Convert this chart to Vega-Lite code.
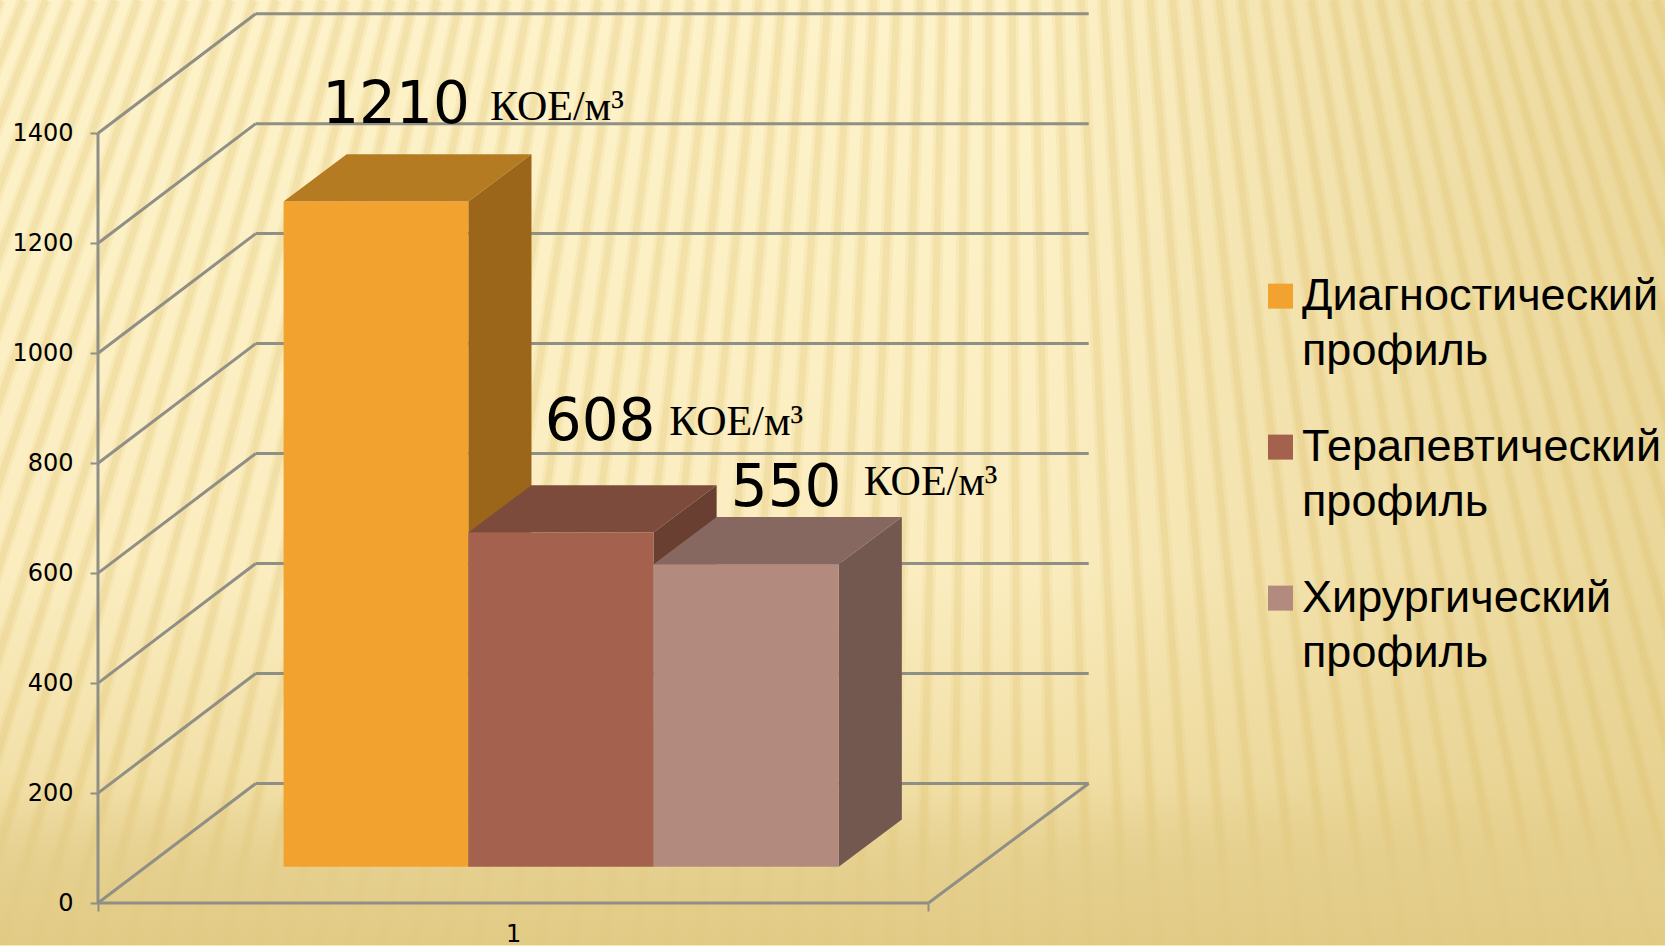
{"$schema":"https://vega.github.io/schema/vega-lite/v6.json","width":1665,"height":946,"padding":0,"autosize":{"type":"fit","contains":"padding"},"background":"#F5E6B4","config":{"view":{"stroke":null},"style":{"guide-label":{"lineHeight":55}}},
"datasets":{
"stripes":[{"x":-1.18,"x2":-5.74,"y":1642.4,"y2":-76.3},{"x":-0.90,"x2":-5.35,"y":1642.4,"y2":-76.3},{"x":-0.63,"x2":-4.97,"y":1642.4,"y2":-76.3},{"x":-0.35,"x2":-4.59,"y":1642.4,"y2":-76.3},{"x":-0.07,"x2":-4.21,"y":1642.4,"y2":-76.3},{"x":0.20,"x2":-3.83,"y":1642.4,"y2":-76.3},{"x":0.48,"x2":-3.45,"y":1642.4,"y2":-76.3},{"x":0.76,"x2":-3.06,"y":1642.4,"y2":-76.3},{"x":1.04,"x2":-2.68,"y":1642.4,"y2":-76.3},{"x":1.31,"x2":-2.30,"y":1642.4,"y2":-76.3},{"x":1.59,"x2":-1.92,"y":1642.4,"y2":-76.3},{"x":1.87,"x2":-1.54,"y":1642.4,"y2":-76.3},{"x":2.14,"x2":-1.16,"y":1642.4,"y2":-76.3},{"x":2.42,"x2":-0.77,"y":1642.4,"y2":-76.3},{"x":2.70,"x2":-0.39,"y":1642.4,"y2":-76.3},{"x":2.97,"x2":-0.01,"y":1642.4,"y2":-76.3},{"x":3.25,"x2":0.37,"y":1642.4,"y2":-76.3},{"x":3.53,"x2":0.75,"y":1642.4,"y2":-76.3},{"x":3.80,"x2":1.14,"y":1642.4,"y2":-76.3},{"x":4.08,"x2":1.52,"y":1642.4,"y2":-76.3},{"x":4.36,"x2":1.90,"y":1642.4,"y2":-76.3},{"x":4.64,"x2":2.28,"y":1642.4,"y2":-76.3},{"x":4.91,"x2":2.66,"y":1642.4,"y2":-76.3},{"x":5.19,"x2":3.04,"y":1642.4,"y2":-76.3},{"x":5.47,"x2":3.43,"y":1642.4,"y2":-76.3},{"x":5.74,"x2":3.81,"y":1642.4,"y2":-76.3},{"x":6.02,"x2":4.19,"y":1642.4,"y2":-76.3},{"x":6.30,"x2":4.57,"y":1642.4,"y2":-76.3},{"x":6.57,"x2":4.95,"y":1642.4,"y2":-76.3},{"x":6.85,"x2":5.33,"y":1642.4,"y2":-76.3},{"x":7.13,"x2":5.72,"y":1642.4,"y2":-76.3},{"x":7.41,"x2":6.10,"y":1642.4,"y2":-76.3},{"x":7.68,"x2":6.48,"y":1642.4,"y2":-76.3},{"x":7.96,"x2":6.86,"y":1642.4,"y2":-76.3},{"x":8.24,"x2":7.24,"y":1642.4,"y2":-76.3},{"x":8.51,"x2":7.62,"y":1642.4,"y2":-76.3},{"x":8.79,"x2":8.01,"y":1642.4,"y2":-76.3},{"x":9.07,"x2":8.39,"y":1642.4,"y2":-76.3},{"x":9.34,"x2":8.77,"y":1642.4,"y2":-76.3},{"x":9.62,"x2":9.15,"y":1642.4,"y2":-76.3},{"x":9.90,"x2":9.53,"y":1642.4,"y2":-76.3},{"x":10.17,"x2":9.91,"y":1642.4,"y2":-76.3},{"x":10.45,"x2":10.30,"y":1642.4,"y2":-76.3},{"x":10.73,"x2":10.68,"y":1642.4,"y2":-76.3},{"x":11.01,"x2":11.08,"y":1642.4,"y2":-76.3},{"x":11.28,"x2":11.50,"y":1642.4,"y2":-76.3},{"x":11.56,"x2":11.93,"y":1642.4,"y2":-76.3},{"x":11.84,"x2":12.35,"y":1642.4,"y2":-76.3},{"x":12.11,"x2":12.77,"y":1642.4,"y2":-76.3},{"x":12.39,"x2":13.19,"y":1642.4,"y2":-76.3},{"x":12.67,"x2":13.62,"y":1642.4,"y2":-76.3},{"x":12.94,"x2":14.04,"y":1642.4,"y2":-76.3},{"x":13.22,"x2":14.46,"y":1642.4,"y2":-76.3},{"x":13.50,"x2":14.88,"y":1642.4,"y2":-76.3},{"x":13.77,"x2":15.31,"y":1642.4,"y2":-76.3},{"x":14.05,"x2":15.73,"y":1642.4,"y2":-76.3},{"x":14.33,"x2":16.15,"y":1642.4,"y2":-76.3},{"x":14.61,"x2":16.57,"y":1642.4,"y2":-76.3},{"x":14.88,"x2":16.99,"y":1642.4,"y2":-76.3},{"x":15.16,"x2":17.42,"y":1642.4,"y2":-76.3},{"x":15.44,"x2":17.84,"y":1642.4,"y2":-76.3},{"x":15.71,"x2":18.26,"y":1642.4,"y2":-76.3},{"x":15.99,"x2":18.69,"y":1642.4,"y2":-76.3},{"x":16.27,"x2":19.11,"y":1642.4,"y2":-76.3},{"x":16.54,"x2":19.53,"y":1642.4,"y2":-76.3},{"x":16.82,"x2":19.95,"y":1642.4,"y2":-76.3},{"x":17.10,"x2":20.38,"y":1642.4,"y2":-76.3},{"x":17.37,"x2":20.80,"y":1642.4,"y2":-76.3},{"x":17.65,"x2":21.22,"y":1642.4,"y2":-76.3},{"x":17.93,"x2":21.64,"y":1642.4,"y2":-76.3},{"x":18.21,"x2":22.06,"y":1642.4,"y2":-76.3},{"x":18.48,"x2":22.49,"y":1642.4,"y2":-76.3},{"x":18.76,"x2":22.91,"y":1642.4,"y2":-76.3}],
"frame":[
{"x":1.9,"x2":11.93,"y":217.5,"y2":217.5},{"x":1.9,"x2":11.93,"y":417.5,"y2":417.5},{"x":1.9,"x2":11.93,"y":617.5,"y2":617.5},{"x":1.9,"x2":11.93,"y":817.5,"y2":817.5},{"x":1.9,"x2":11.93,"y":1017.5,"y2":1017.5},{"x":1.9,"x2":11.93,"y":1217.5,"y2":1217.5},{"x":1.9,"x2":11.93,"y":1417.5,"y2":1417.5},{"x":1.9,"x2":11.93,"y":1617.5,"y2":1617.5},
{"x":0,"x2":1.9,"y":0,"y2":217.5},{"x":0,"x2":1.9,"y":200,"y2":417.5},{"x":0,"x2":1.9,"y":400,"y2":617.5},{"x":0,"x2":1.9,"y":600,"y2":817.5},{"x":0,"x2":1.9,"y":800,"y2":1017.5},{"x":0,"x2":1.9,"y":1000,"y2":1217.5},{"x":0,"x2":1.9,"y":1200,"y2":1417.5},{"x":0,"x2":1.9,"y":1400,"y2":1617.5},
{"x":10,"x2":11.93,"y":0,"y2":217.5},{"x":0,"x2":0,"y":0,"y2":1400},{"x":0,"x2":10,"y":0,"y2":0}],
"sides":[
{"profile":"Диагностический профиль","x":4.46,"y":1276,"y2":66},{"profile":"Диагностический профиль","x":5.22,"y":1362,"y2":152},
{"profile":"Терапевтический профиль","x":6.69,"y":674,"y2":66},{"profile":"Терапевтический профиль","x":7.45,"y":760,"y2":152},
{"profile":"Хирургический профиль","x":8.92,"y":616,"y2":66},{"profile":"Хирургический профиль","x":9.68,"y":702,"y2":152}],
"tops":[
{"profile":"Диагностический профиль","y":1276,"x":2.235,"x2":4.46},{"profile":"Диагностический профиль","y":1362,"x":2.995,"x2":5.22},
{"profile":"Терапевтический профиль","y":674,"x":4.46,"x2":6.69},{"profile":"Терапевтический профиль","y":760,"x":5.22,"x2":7.45},
{"profile":"Хирургический профиль","y":616,"x":6.69,"x2":8.92},{"profile":"Хирургический профиль","y":702,"x":7.45,"x2":9.68}],
"bars":[
{"profile":"Диагностический профиль","value":1210,"x":2.235,"x2":4.46},
{"profile":"Терапевтический профиль","value":608,"x":4.46,"x2":6.69},
{"profile":"Хирургический профиль","value":550,"x":6.69,"x2":8.92}],
"numbers":[{"label":"1210","x":2.7,"y":1419},{"label":"608","x":5.38,"y":842},{"label":"550","x":7.62,"y":723}],
"units":[{"label":"КОЕ/м³","x":4.72,"y":1424.6},{"label":"КОЕ/м³","x":6.88,"y":852},{"label":"КОЕ/м³","x":9.22,"y":743}],
"page":[{"x":-1.18,"x2":18.87,"y":1642.4,"y2":-76.3}]
},
"encoding":{
"x":{"field":"x","type":"quantitative","title":null,"scale":{"domain":[-1.18,18.87],"nice":false,"zero":false},
"axis":{"orient":"bottom","offset":-42,"zindex":1,"values":[0,5,10],"domain":false,"grid":false,"tickColor":"#8F8F85","tickWidth":2,"tickSize":8,"tickOpacity":{"condition":{"test":"datum.value==5","value":0},"value":1},"labelExpr":"datum.value==5?'1':''","labelFont":"DejaVu Sans","labelFontSize":24,"labelColor":"#000","labelPadding":11,"labelFlush":false,"labelOverlap":false}},
"y":{"field":"y","type":"quantitative","title":null,"stack":null,"scale":{"domain":[-76.3,1642.4],"nice":false,"zero":false},
"axis":{"orient":"left","offset":-98,"zindex":1,"values":[0,200,400,600,800,1000,1200,1400],"format":"d","domain":false,"grid":false,"tickColor":"#8F8F85","tickWidth":2,"tickSize":8,"labelFont":"DejaVu Sans","labelFontSize":24,"labelColor":"#000","labelPadding":17,"labelFlush":false,"labelOverlap":false}}
},
"layer":[
{"data":{"name":"page"},"mark":{"type":"rect","fill":{"gradient":"linear","x1":0,"y1":0,"x2":0,"y2":1,"stops":[{"offset":0,"color":"#FDF2C9"},{"offset":0.6,"color":"#FBEDC0"},{"offset":0.82,"color":"#F2E0A8"},{"offset":0.93,"color":"#E7D292"},{"offset":1,"color":"#E1CA85"}]}},"encoding":{"x2":{"field":"x2"},"y2":{"field":"y2"}}},
{"data":{"name":"page"},"mark":{"type":"rect","fill":{"gradient":"linear","x1":0,"y1":0,"x2":1,"y2":0,"stops":[{"offset":0.62,"color":"rgba(226,203,133,0)"},{"offset":0.75,"color":"rgba(226,203,133,0.3)"},{"offset":1,"color":"rgba(226,203,133,0.65)"}]}},"encoding":{"x2":{"field":"x2"},"y2":{"field":"y2"}}},
{"data":{"name":"stripes"},"mark":{"type":"rule","clip":true,"color":"#DDBE68","opacity":0.13,"strokeWidth":13},"encoding":{"x2":{"field":"x2"},"y2":{"field":"y2"}}},
{"data":{"name":"stripes"},"mark":{"type":"rule","clip":true,"color":"#DDBE68","opacity":0.2,"strokeWidth":7},"encoding":{"x2":{"field":"x2"},"y2":{"field":"y2"}}},
{"data":{"name":"page"},"mark":{"type":"rect","fill":{"gradient":"linear","x1":0,"y1":0,"x2":0,"y2":1,"stops":[{"offset":0.84,"color":"rgba(228,206,140,0)"},{"offset":0.93,"color":"rgba(228,206,140,0.75)"},{"offset":1,"color":"rgba(226,203,133,0.8)"}]}},"encoding":{"x2":{"field":"x2"},"y2":{"field":"y2"}}},
{"data":{"name":"frame"},"mark":{"type":"rule","color":"#8F8F85","strokeWidth":3},"encoding":{"x2":{"field":"x2"},"y2":{"field":"y2"}}},
{"data":{"name":"sides"},"mark":{"type":"area","orient":"vertical"},"encoding":{"y2":{"field":"y2"},"color":{"field":"profile","type":"nominal","legend":null,"sort":null,"scale":{"domain":["Диагностический профиль","Терапевтический профиль","Хирургический профиль"],"range":["#9B6619","#693F32","#735850"]}}}},
{"data":{"name":"tops"},"mark":{"type":"area","orient":"horizontal"},"encoding":{"x2":{"field":"x2"},"color":{"field":"profile","type":"nominal","legend":null,"sort":null,"scale":{"domain":["Диагностический профиль","Терапевтический профиль","Хирургический профиль"],"range":["#B57B22","#7D4B3B","#876860"]}}}},
{"data":{"name":"bars"},"mark":{"type":"rect","yOffset":-36.3,"y2Offset":-36.3},"encoding":{"x2":{"field":"x2"},"y":{"field":"value","type":"quantitative","title":null},"y2":{"datum":0},"color":{"field":"profile","type":"nominal","sort":null,"title":null,"scale":{"domain":["Диагностический профиль","Терапевтический профиль","Хирургический профиль"],"range":["#F2A22E","#A4624E","#B38A7E"]},
"legend":{"orient":"none","legendX":1258,"legendY":287,"symbolType":"M-1,-2.07H1V-0.07H-1Z","symbolSize":625,"symbolStrokeWidth":0,"symbolOpacity":1,"labelFont":"Liberation Sans","labelFontSize":45,"labelColor":"#000","labelLimit":500,"labelOffset":-1,"rowPadding":50,"labelExpr":"split(datum.label,' ')","labelBaseline":"alphabetic"}}}},
{"data":{"name":"numbers"},"mark":{"type":"text","align":"left","baseline":"alphabetic","font":"DejaVu Sans","fontSize":58,"color":"#000"},"encoding":{"text":{"field":"label"}}},
{"data":{"name":"units"},"mark":{"type":"text","align":"left","baseline":"alphabetic","font":"Liberation Serif","fontSize":42,"color":"#000"},"encoding":{"text":{"field":"label"}}}
],
"resolve":{"scale":{"color":"independent"}}
}
